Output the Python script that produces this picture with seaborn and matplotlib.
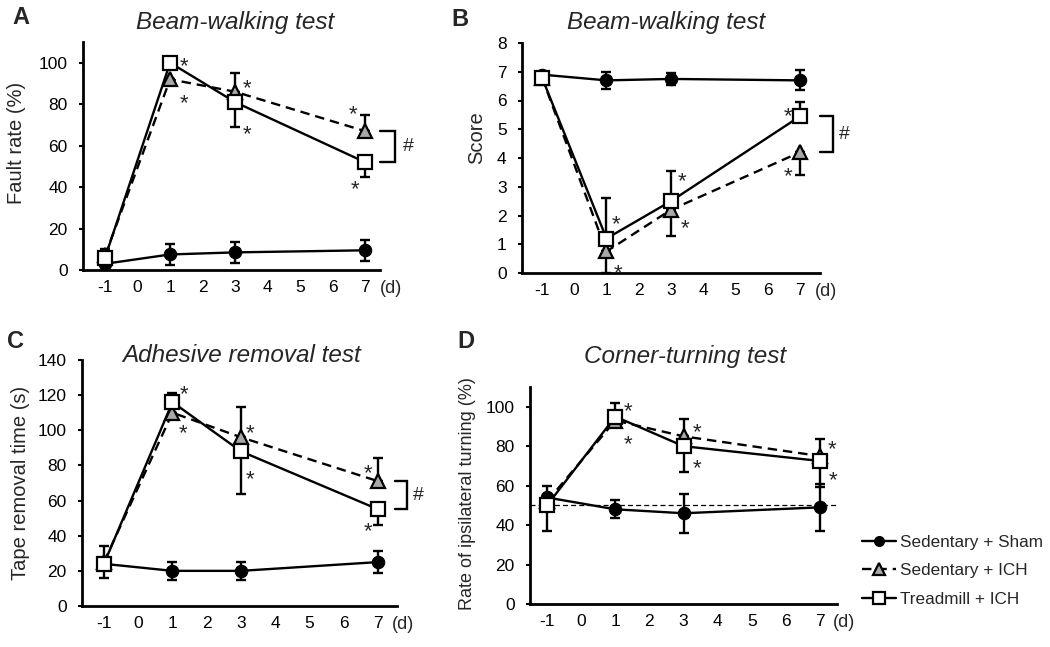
import matplotlib
matplotlib.use("Agg")
import matplotlib.pyplot as plt
import seaborn as sns
import numpy as np

# ---------------- data ----------------
days = [-1, 1, 3, 7]
xticks = [-1, 0, 1, 2, 3, 4, 5, 6, 7]
groups = ["Sedentary + Sham", "Sedentary + ICH", "Treadmill + ICH"]

# Panel A: Beam-walking fault rate (%)
A_sham = [3, 7.5, 8.5, 9.5]
A_sham_err = [1.5, 5, 5, 5]
A_sed = [7, 92, 86, 67]
A_sed_up = [3, 0, 9, 8]
A_sed_dn = [0, 0, 0, 0]
A_tm = [6, 100, 81, 52]
A_tm_up = [0, 0, 0, 0]
A_tm_dn = [0, 0, 12, 7]

# Panel B: Beam-walking score
B_sham = [6.9, 6.7, 6.75, 6.7]
B_sham_err = [0.1, 0.3, 0.2, 0.35]
B_sed = [6.8, 0.75, 2.2, 4.2]
B_sed_up = [0, 0, 0, 0]
B_sed_dn = [0, 0.75, 0.9, 0.8]
B_tm = [6.8, 1.2, 2.5, 5.45]
B_tm_up = [0, 1.4, 1.05, 0.5]
B_tm_dn = [0, 0, 0, 0]

# Panel C: Adhesive removal time (s)
C_sham = [24, 20, 20, 25]
C_sham_err = [0, 5, 5, 6.5]
C_sed = [25, 110, 96, 71]
C_sed_up = [9, 0, 17, 13]
C_sed_dn = [0, 0, 0, 0]
C_tm = [24, 116, 88, 55]
C_tm_up = [0, 5, 0, 0]
C_tm_dn = [8, 0, 24, 9]

# Panel D: Corner-turning (%)
D_sham = [54, 48, 46, 49]
D_sham_err = [6, 4.5, 10, 12]
D_sed = [52, 93, 85, 75]
D_sed_up = [0, 0, 9, 8.5]
D_sed_dn = [0, 0, 0, 0]
D_tm = [50, 95, 80, 72.5]
D_tm_up = [0, 7, 0, 0]
D_tm_dn = [13, 0, 13, 13]
D_chance = 50

# ---------------- style ----------------
sns.set_style("ticks")
plt.rcParams["font.family"] = ["Liberation Sans", "DejaVu Sans"]

fig = plt.figure(figsize=(10.5, 6.47), dpi=100)

W, H = 1050, 647
def rect(l, r, t, b):
    return [l / W, 1 - b / H, (r - l) / W, (b - t) / H]

axA = fig.add_axes(rect(83, 380, 42, 270))
axB = fig.add_axes(rect(522, 820, 43, 273))
axC = fig.add_axes(rect(82, 397, 360, 606))
axD = fig.add_axes(rect(530, 837, 387, 604))

LW = 1.7
styles = [
    dict(color="k", marker="o", markersize=9, markerfacecolor="k",
         markeredgecolor="k", linestyle="-"),
    dict(color="k", marker="^", markersize=10, markerfacecolor="#a8a8a8",
         markeredgecolor="k", markeredgewidth=1.6, linestyle=(0, (4, 2.5))),
    dict(color="k", marker="s", markersize=10, markerfacecolor="white",
         markeredgecolor="k", markeredgewidth=1.6, linestyle="-"),
]

def draw(ax, sham, sham_err, sed, sed_up, sed_dn, tm, tm_up, tm_dn):
    kw = dict(fmt="none", ecolor="k", elinewidth=1.7, capsize=3.5,
              capthick=1.7, clip_on=False)
    ax.errorbar(days, sham, yerr=[sham_err, sham_err], zorder=2, **kw)
    ax.errorbar(days, sed, yerr=[sed_dn, sed_up], zorder=3, **kw)
    ax.errorbar(days, tm, yerr=[tm_dn, tm_up], zorder=4, **kw)
    for vals, st, lab, z in zip([sham, sed, tm], styles, groups, [2.5, 3.5, 4.5]):
        sns.lineplot(x=days, y=vals, ax=ax, label=lab, lw=LW, zorder=z,
                     clip_on=False, legend=False, **st)

def finish(ax, ylim, yticks, xlim, title, title_xy, ylabel, ylabel_size,
           ylabel_xy, letter, letter_xy, d_x):
    ax.set_xlim(*xlim)
    ax.set_ylim(*ylim)
    ax.set_yticks(yticks)
    ax.set_xticks(xticks)
    ax.set_xticklabels([str(t) for t in xticks])
    for s in ["top", "right"]:
        ax.spines[s].set_visible(False)
    for s in ["left", "bottom"]:
        ax.spines[s].set_linewidth(2.0)
        ax.spines[s].set_color("k")
    ax.tick_params(axis="x", length=0, pad=7, labelsize=12.5, colors="k")
    ax.tick_params(axis="y", length=3, width=1.5, pad=8, labelsize=12.5,
                   colors="k")
    ax.set_ylabel("")
    ax.set_xlabel("")
    fig.text(ylabel_xy[0] / W, 1 - ylabel_xy[1] / H, ylabel,
             fontsize=ylabel_size, rotation=90, ha="center", va="center")
    fig.text(title_xy[0] / W, 1 - title_xy[1] / H, title, fontsize=17.5,
             style="italic", ha="center", va="center")
    fig.text(letter_xy[0] / W, 1 - letter_xy[1] / H, letter, fontsize=17,
             fontweight="bold", ha="left", va="center")
    ax.annotate("(d)", xy=(7, 0), xycoords=("data", "axes fraction"),
                xytext=(d_x, -7), textcoords="offset points",
                ha="left", va="top", fontsize=13)

def stars(ax, series, offsets):
    for (d, v), (dx, dy) in zip(series, offsets):
        ax.annotate("*", xy=(d, v), xytext=(dx * 0.72, dy * 0.72 - 4.5),
                    textcoords="offset points", ha="center", va="center",
                    fontsize=16, annotation_clip=False)

def bracket(ax, y_top, y_bot, x0, x1, xh):
    ax.plot([x0, x1, x1, x0], [y_top, y_top, y_bot, y_bot], color="k",
            lw=1.7, clip_on=False, solid_joinstyle="miter")
    ax.text(xh, (y_top + y_bot) / 2, "#", fontsize=14, ha="left",
            va="center", clip_on=False)

# ---- A ----
draw(axA, A_sham, A_sham_err, A_sed, A_sed_up, A_sed_dn, A_tm, A_tm_up, A_tm_dn)
finish(axA, (0, 110), [0, 20, 40, 60, 80, 100], (-1.68, 7.46),
       "Beam-walking test", (235, 23), "Fault rate (%)", 14.5, (17, 143),
       "A", (12, 18), 11)
stars(axA, [(1, A_tm[1]), (1, A_sed[1]), (3, A_sed[2]), (3, A_tm[2]),
            (7, A_sed[3]), (7, A_tm[3])],
      [(14, 2), (14, -18), (12, 9), (12, -26), (-12, 23), (-10, -21)])
bracket(axA, A_sed[3], A_tm[3], 7.46, 7.92, 8.15)

# ---- B ----
draw(axB, B_sham, B_sham_err, B_sed, B_sed_up, B_sed_dn, B_tm, B_tm_up, B_tm_dn)
finish(axB, (0, 8), [0, 1, 2, 3, 4, 5, 6, 7, 8], (-1.62, 7.62),
       "Beam-walking test", (666, 23), "Score", 14.5, (477, 138),
       "B", (451, 20), 11)
stars(axB, [(1, B_tm[1]), (1, B_sed[1]), (3, B_tm[2]), (3, B_sed[2]),
            (7, B_tm[3]), (7, B_sed[3])],
      [(10, 20), (12, -16), (11, 26), (14, -13), (-12, 6), (-12, -18)])
bracket(axB, B_tm[3], B_sed[3], 7.62, 8.02, 8.22)

# ---- C ----
draw(axC, C_sham, C_sham_err, C_sed, C_sed_up, C_sed_dn, C_tm, C_tm_up, C_tm_dn)
finish(axC, (0, 140), [0, 20, 40, 60, 80, 100, 120, 140], (-1.64, 7.55),
       "Adhesive removal test", (242, 355), "Tape removal time (s)", 14.5,
       (21, 483), "C", (7, 342), 10)
stars(axC, [(1, C_tm[1]), (1, C_sed[1]), (3, C_sed[2]), (3, C_tm[2]),
            (7, C_sed[3]), (7, C_tm[3])],
      [(12, 14), (11, -15), (9, 10), (9, -22), (-10, 14), (-10, -16)])
bracket(axC, C_sed[3], C_tm[3], 7.5, 7.85, 8.0)

# ---- D ----
axD.axhline(D_chance, color="k", lw=0.9, ls=(0, (4, 2.5)), zorder=1)
draw(axD, D_sham, D_sham_err, D_sed, D_sed_up, D_sed_dn, D_tm, D_tm_up, D_tm_dn)
finish(axD, (0, 110), [0, 20, 40, 60, 80, 100], (-1.5, 7.5),
       "Corner-turning test", (685, 357), "Rate of ipsilateral turning (%)", 13,
       (468, 494), "D", (457, 341), 9)
stars(axD, [(1, D_tm[1]), (1, D_sed[1]), (3, D_sed[2]), (3, D_tm[2]),
            (7, D_sed[3]), (7, D_tm[3])],
      [(13, 11), (13, -18), (14, 10), (14, -16), (12, 13), (13, -13)])

# ---- legend ----
handles, labels = axD.get_legend_handles_labels()
fig.legend(handles[:3], labels[:3], loc="upper left",
           bbox_to_anchor=(862 / W, 1 - 535 / H), frameon=False,
           fontsize=12.3, handlelength=2.0, handletextpad=0.2,
           labelspacing=0.78, borderpad=0, borderaxespad=0, markerscale=0.8)

fig.savefig("out.png", dpi=100)
